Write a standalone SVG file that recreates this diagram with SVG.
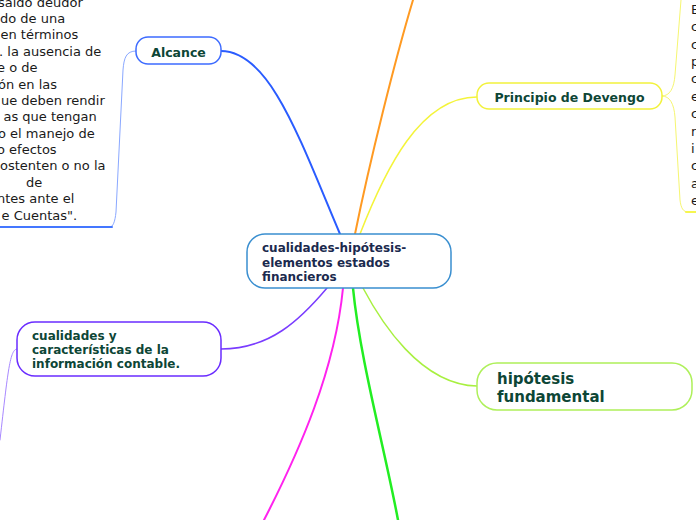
<svg xmlns="http://www.w3.org/2000/svg" width="696" height="520" viewBox="0 0 696 520">
<style>
.node{fill:#ffffff;stroke-width:1.5}
.nt{font-family:"DejaVu Sans",Verdana,sans-serif;font-weight:bold;fill:#0d4636}
.ct{font-family:"DejaVu Sans",Verdana,sans-serif;font-weight:bold;font-size:12px;fill:#1b2a4e}
.body{font-family:"DejaVu Sans",Verdana,sans-serif;font-size:13px;fill:#1a1a1a}
.c{fill:none;stroke-linecap:round}
</style>
<rect width="696" height="520" fill="#ffffff"/>
<g id="connectors">
<path class="c" d="M221,51 C270,51 300,140 340,234" stroke="#2a5cff" stroke-width="2"/>
<path class="c" d="M355,234 C370,160 395,60 413,0" stroke="#ff9a22" stroke-width="2"/>
<path class="c" d="M360,234 C385,170 420,97 477,97" stroke="#f4f43a" stroke-width="1.5"/>
<path class="c" d="M327,288 C300,320 270,349 221,349" stroke="#7a3cff" stroke-width="1.5"/>
<path class="c" d="M343,288 C335,370 300,450 264,520" stroke="#ff22ee" stroke-width="2"/>
<path class="c" d="M353,288 C360,360 385,450 398,520" stroke="#22ee22" stroke-width="2.5"/>
<path class="c" d="M363,288 C380,320 420,385 477,386" stroke="#a8f040" stroke-width="1.5"/>
<path class="c" d="M136,51 C126,51 124,58 123,70 L116,212 C115,222 113,227 110,227" stroke="#8aa8ff" stroke-width="1"/>
<path class="c" d="M0,227 L112,227" stroke="#4477ff" stroke-width="2"/>
<path class="c" d="M662,96 C670,96 674,88 675,75 L681,0" stroke="#f6f670" stroke-width="1"/>
<path class="c" d="M662,96 C670,96 674,104 675,117 L680,200 C681,208 683,212 688,212" stroke="#f6f670" stroke-width="1"/>
<path class="c" d="M686,212 L696,212" stroke="#f6f650" stroke-width="2"/>
<path class="c" d="M17,349 C10,349 8,370 0,440" stroke="#a888ff" stroke-width="1"/>
</g>
<g id="center">
<rect class="node" x="247" y="234" width="204" height="54" rx="18" stroke="#3a8fd0" fill="#fbfdff"/>
<text class="ct" x="262" y="252">cualidades-hipótesis-</text>
<text class="ct" x="262" y="267">elementos estados</text>
<text class="ct" x="262" y="281">financieros</text>
</g>
<g id="alcance">
<rect class="node" x="136" y="37" width="85" height="27" rx="12" stroke="#3d6bff"/>
<text class="nt" x="178.5" y="56.5" font-size="12.5" text-anchor="middle">Alcance</text>
</g>
<g id="alcance-text">
<text class="body" x="-2" y="6.5">saldo deudor</text>
<text class="body" x="0" y="22.5">do de una</text>
<text class="body" x="0.5" y="39">en términos</text>
<text class="body" x="-1" y="55.5">. la ausencia de</text>
<text class="body" x="-3" y="72">e o de</text>
<text class="body" x="-2" y="88.5">ón en las</text>
<text class="body" x="1" y="104.5">ue deben rendir</text>
<text class="body" x="3.5" y="121">as que tengan</text>
<text class="body" x="-2" y="137.5">o el manejo de</text>
<text class="body" x="-3" y="153.5">o efectos</text>
<text class="body" x="0" y="170">ostenten o no la</text>
<text class="body" x="26" y="186.5">de</text>
<text class="body" x="-3" y="203">ntes ante el</text>
<text class="body" x="1.5" y="219.5">e Cuentas".</text>
</g>
<g id="principio">
<rect class="node" x="477" y="83" width="185" height="26" rx="12" stroke="#f2f23c"/>
<text class="nt" x="569.5" y="101.5" font-size="12.5" text-anchor="middle">Principio de Devengo</text>
</g>
<g id="principio-text">
<text class="body" x="691" y="14">E</text>
<text class="body" x="691" y="31.4">c</text>
<text class="body" x="691" y="48.7">c</text>
<text class="body" x="691" y="66">p</text>
<text class="body" x="691" y="83.4">c</text>
<text class="body" x="691" y="100.8">e</text>
<text class="body" x="691" y="118.1">c</text>
<text class="body" x="691" y="135.5">n</text>
<text class="body" x="691" y="152.8">i</text>
<text class="body" x="691" y="170.2">c</text>
<text class="body" x="691" y="187.5">a</text>
<text class="body" x="691" y="204.9">e</text>
</g>
<g id="cualidades">
<rect class="node" x="17" y="322" width="204" height="54" rx="18" stroke="#6a2cff"/>
<text class="nt" x="32" y="339.5" font-size="12">cualidades y</text>
<text class="nt" x="32" y="354" font-size="12">características de la</text>
<text class="nt" x="32" y="368" font-size="12">información contable.</text>
</g>
<g id="hipotesis">
<rect class="node" x="477" y="363" width="215" height="47" rx="20" stroke="#aef05a"/>
<text class="nt" x="497" y="383.5" font-size="15">hipótesis</text>
<text class="nt" x="497" y="401.5" font-size="15">fundamental</text>
</g>
</svg>
